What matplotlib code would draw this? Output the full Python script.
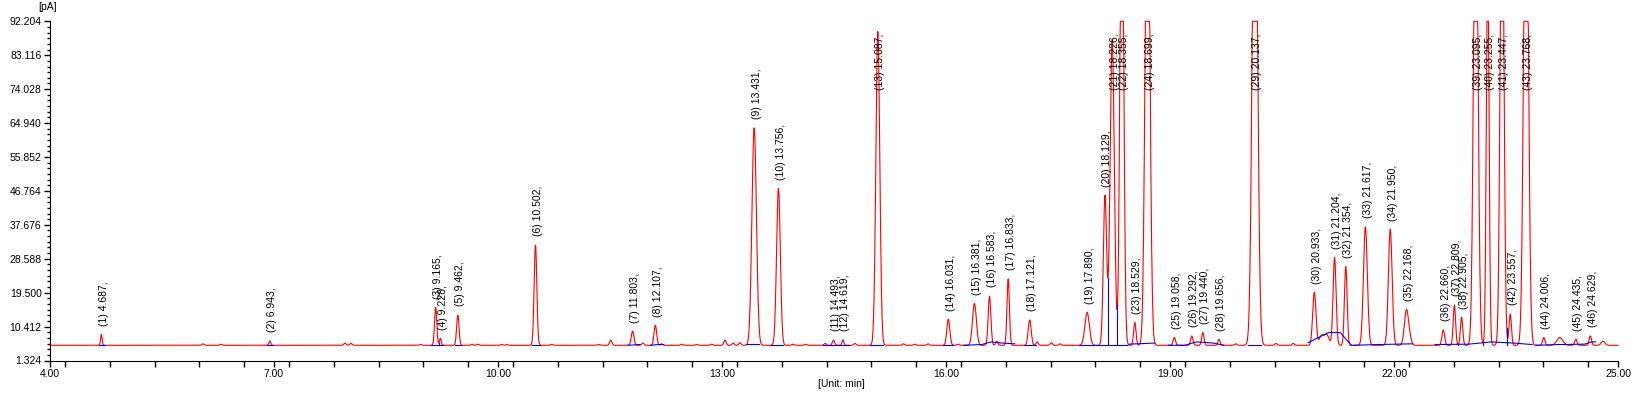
import numpy as np
import matplotlib
matplotlib.use("Agg")
import matplotlib.pyplot as plt
from matplotlib.ticker import FixedLocator, MultipleLocator

plt.rcParams['font.family'] = ['Liberation Sans', 'DejaVu Sans']

# peak table (retention time, apex in pA, width in min)
peak_rt = [4.687, 6.943, 9.165, 9.228, 9.462, 10.502, 11.803, 12.107, 13.431, 13.756,
           14.493, 14.619, 15.087, 16.031, 16.381, 16.583, 16.833, 17.121, 17.890, 18.129,
           18.226, 18.355, 18.529, 18.699, 19.058, 19.292, 19.440, 19.656, 20.137, 20.933,
           21.204, 21.354, 21.617, 21.950, 22.168, 22.660, 22.809, 22.905, 23.095, 23.255,
           23.447, 23.557, 23.768, 24.006, 24.435, 24.629]
peak_top = [8.35, 6.55, 15.6, 7.3, 13.5, 32.4, 9.2, 10.8, 63.7, 47.5,
            6.8, 6.9, 89.7, 12.4, 16.6, 18.6, 23.3, 12.2, 14.2, 45.4,
            87.4, 145.0, 11.5, 150.0, 7.5, 7.9, 8.8, 7.0, 160.0, 19.6,
            29.0, 26.5, 37.2, 36.5, 15.0, 9.5, 16.2, 12.9, 150.0, 110.0,
            150.0, 13.8, 155.0, 7.5, 7.0, 7.9]
peak_w = [0.010, 0.012, 0.015, 0.012, 0.016, 0.018, 0.018, 0.018, 0.030, 0.025,
          0.015, 0.012, 0.026, 0.020, 0.026, 0.018, 0.016, 0.020, 0.030, 0.022,
          0.028, 0.024, 0.016, 0.030, 0.016, 0.016, 0.016, 0.014, 0.033, 0.022,
          0.020, 0.018, 0.026, 0.025, 0.028, 0.018, 0.016, 0.016, 0.028, 0.018,
          0.024, 0.016, 0.030, 0.016, 0.016, 0.016]

# small unlabelled bumps
bump_rt = [6.05, 6.29, 7.95, 8.03, 8.96, 9.65, 9.73, 10.05, 10.12, 10.72, 11.35, 11.51,
           11.94, 12.19, 12.46, 12.66, 12.86, 13.04, 13.15, 13.24, 13.95, 14.12, 14.38,
           14.78, 15.43, 15.58, 15.76, 16.16, 16.68, 17.22, 17.41, 17.53, 19.88, 20.42,
           20.65, 21.03, 21.10, 22.22, 24.22, 24.80]
bump_top = [5.8, 5.7, 6.0, 5.9, 5.6, 5.7, 5.7, 5.6, 5.6, 5.7, 5.6, 6.8,
            6.0, 5.8, 5.7, 5.6, 5.7, 6.8, 6.0, 6.1, 5.7, 5.7, 5.9,
            5.9, 5.8, 5.7, 5.8, 5.7, 6.5, 6.3, 6.1, 5.8, 5.8, 5.9,
            5.9, 8.0, 8.2, 6.5, 7.5, 6.5]
bump_w = [0.015] * 35 + [0.03, 0.03, 0.02, 0.04, 0.025]

base_level = 5.4

# integration baseline (blue), one list of points per segment
blue_pts = [
    [(4.65, 5.4), (4.73, 5.4)],
    [(6.91, 5.4), (6.98, 5.4)],
    [(9.10, 5.4), (9.27, 5.4)],
    [(9.42, 5.4), (9.51, 5.4)],
    [(10.45, 5.4), (10.56, 5.4)],
    [(11.74, 5.4), (11.90, 5.6)],
    [(12.04, 5.4), (12.14, 5.6), (12.22, 5.6)],
    [(13.32, 5.8), (13.50, 5.8)],
    [(13.66, 5.4), (13.82, 5.4)],
    [(14.35, 5.4), (14.70, 5.4)],
    [(14.98, 5.4), (15.16, 5.4)],
    [(15.96, 5.4), (16.10, 5.4)],
    [(16.24, 5.4), (16.48, 5.6), (16.60, 6.3), (16.75, 6.0), (16.92, 5.8)],
    [(17.05, 5.4), (17.20, 5.4)],
    [(17.78, 5.4), (18.42, 5.4)],
    [(18.45, 5.7), (18.80, 6.0)],
    [(18.98, 5.4), (19.20, 5.4), (19.35, 6.3), (19.58, 6.0), (19.72, 5.4)],
    [(20.05, 5.4), (20.22, 5.4)],
    [(20.85, 6.1), (21.12, 8.8), (21.28, 8.8), (21.43, 5.4)],
    [(21.45, 5.4), (21.80, 5.6), (22.25, 5.8)],
    [(22.55, 5.6), (23.00, 5.7), (23.30, 6.3), (23.60, 6.0), (23.85, 5.6)],
    [(23.90, 5.4), (24.20, 5.6), (24.55, 5.7), (24.65, 6.3), (24.70, 6.3)],
]
drop_rt = [9.21, 18.165, 18.285, 22.86, 23.19, 23.51]

y_ticks = [1.324, 10.412, 19.500, 28.588, 37.676, 46.764, 55.852, 64.940, 74.028, 83.116, 92.204]
x_ticks = [4.00, 7.00, 10.00, 13.00, 16.00, 19.00, 22.00, 25.00]
y_min, y_max = 1.324, 92.204

# build the trace from the peak table
t = np.arange(4.0, 25.0001, 0.005)
signal = np.full_like(t, base_level)
for rt, top, w in zip(peak_rt + bump_rt, peak_top + bump_top, peak_w + bump_w):
    signal += (top - base_level) * np.exp(-0.5 * ((t - rt) / w) ** 2)
signal = np.minimum(signal, y_max)

fig = plt.figure(figsize=(16.36, 3.95), dpi=100)
ax = fig.add_axes([50 / 1636, 1 - 360.5 / 395, 1568 / 1636, 339.2 / 395])

ax.plot(t, signal, color='red', lw=0.8, clip_on=False, zorder=2)

for seg in blue_pts:
    ax.plot([p[0] for p in seg], [p[1] for p in seg], color='blue', lw=0.8, zorder=3)
for rt in drop_rt:
    ax.plot([rt, rt], [base_level, np.interp(rt, t, signal)], color='blue', lw=0.8, zorder=3)

# peak labels
for i, (rt, top) in enumerate(zip(peak_rt, peak_top)):
    y_lab = min(top + 2.3, 73.8)
    ax.text(rt - 0.035, y_lab, f"({i + 1}) {rt:.3f},", rotation=90, ha='left', va='bottom',
            fontsize=7.5, color='black', zorder=4)

ax.set_xlim(4.0, 25.0)
ax.set_ylim(y_min, y_max)
ax.xaxis.set_major_locator(FixedLocator(x_ticks))
ax.xaxis.set_minor_locator(MultipleLocator(0.6))
ax.set_xticklabels([f"{v:.2f}" for v in x_ticks])
ax.yaxis.set_major_locator(FixedLocator(y_ticks))
ax.yaxis.set_minor_locator(FixedLocator(np.arange(y_min, y_max, 9.088 / 6)))
ax.set_yticklabels([f"{v:.3f}" for v in y_ticks])
ax.tick_params(axis='both', which='major', direction='out', length=4, width=1, labelsize=7.5, pad=2)
ax.tick_params(axis='x', which='minor', direction='out', length=4, width=1)
ax.tick_params(axis='y', which='minor', direction='out', length=2, width=1)
ax.spines['top'].set_visible(False)
ax.spines['right'].set_visible(False)

fig.text(48 / 1636, 1 - 7 / 395, "[pA]", fontsize=7.5, ha='center', va='center')
fig.text(818 / 1636, 1 - 384 / 395, "[Unit: min]", fontsize=7.5, ha='left', va='center')

fig.savefig("out.png", dpi=100)
